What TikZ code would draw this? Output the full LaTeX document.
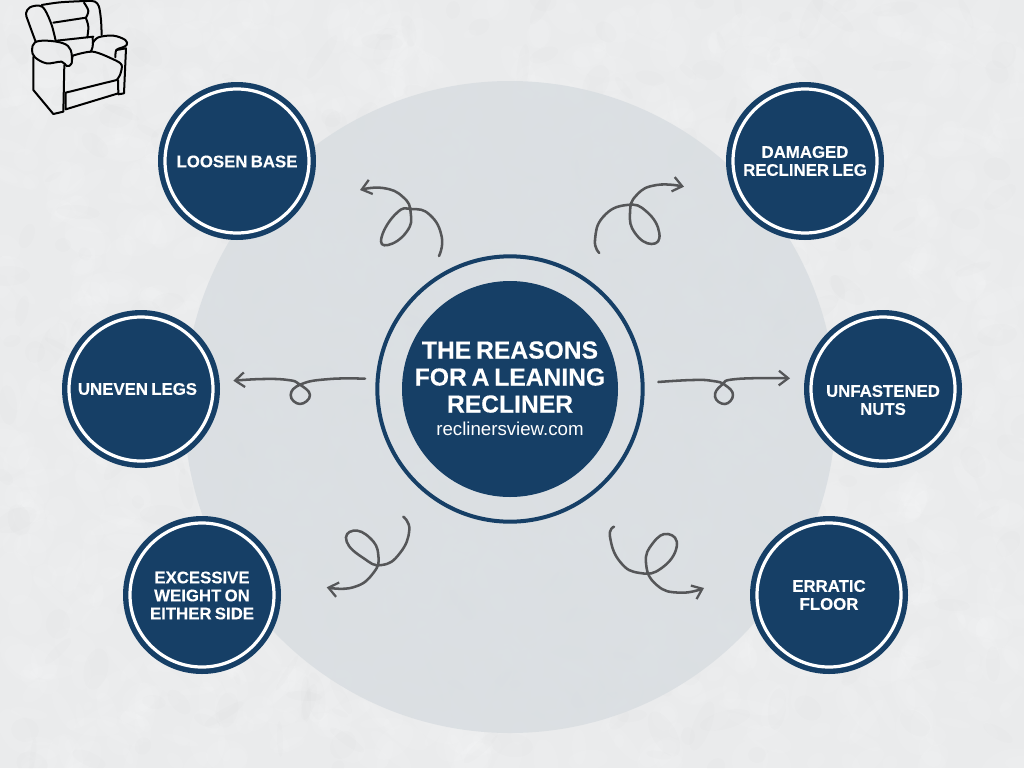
\documentclass[tikz,border=0pt]{standalone}
\usepackage{fontspec}
\setmainfont[WordSpace=0.7,BoldFeatures={FakeBold=0.25}]{Liberation Sans}
\usetikzlibrary{arrows.meta}
\definecolor{paper}{HTML}{EAEBEC}
\definecolor{disc}{HTML}{D8DDE1}
\definecolor{navy}{HTML}{163F66}
\definecolor{curl}{HTML}{555658}
\pgfmathsetseed{11}
\newcommand{\hubline}[1]{{\bfseries\fontsize{18.5}{20.25}\selectfont #1}}
\tikzset{
  reason/.style={circle,fill=navy,minimum size=118.5pt,inner sep=0pt},
  reasontext/.style={text=white,inner sep=0pt,align=center,
     font=\bfseries\fontsize{12.6}{13.5}\selectfont},
  ringline/.style={draw=white,line width=2.4pt},
  squiggle/.style={draw=curl,line width=1.9pt,line cap=round,line join=round,
     -{Straight Barb[length=7pt,width=11pt,line width=1.7pt]}},
  chairline/.style={draw=black,line width=1.5pt,line cap=round,line join=round},
  blotch/.style={white,opacity=.075},
  shade/.style={black,opacity=.008}
}
\begin{document}
\begin{tikzpicture}[x=.75pt,y=-.75pt]
\useasboundingbox (0,0) rectangle (1024,768);
\fill[paper] (0,0) rectangle (1024,768);
\begin{scope}
\clip (0,0) rectangle (1024,768);
\foreach \i in {1,...,1500}{
  \pgfmathsetmacro{\px}{random(0,1024)}
  \pgfmathsetmacro{\py}{random(0,768)}
  \pgfmathsetmacro{\ra}{random(5,30)}
  \pgfmathsetmacro{\rb}{random(4,18)}
  \pgfmathsetmacro{\ang}{random(0,180)}
  \fill[blotch,rotate around={\ang:(\px,\py)}] (\px,\py) ellipse[x radius=\ra,y radius=\rb];
}
\foreach \i in {1,...,300}{
  \pgfmathsetmacro{\px}{random(0,1024)}
  \pgfmathsetmacro{\py}{random(0,768)}
  \pgfmathsetmacro{\ra}{random(6,26)}
  \pgfmathsetmacro{\rb}{random(3,12)}
  \pgfmathsetmacro{\ang}{random(0,180)}
  \fill[shade,rotate around={\ang:(\px,\py)}] (\px,\py) ellipse[x radius=\ra,y radius=\rb];
}
\end{scope}
\fill[disc,opacity=.82] (510,407) circle[radius=326];
% chair
\begin{scope}[x=.25pt,y=-.25pt]
\draw[chairline] plot[smooth,tension=.6] coordinates {(107,125)(85,65)(78,40)(90,22)(118,17)(135,30)(155,75)(167,122)};
\draw[chairline] plot[smooth,tension=.5] coordinates {(125,15)(180,7)(260,3)(285,5)(297,20)(303,60)(305,105)};
\draw[chairline] plot[smooth,tension=.6] coordinates {(252,8)(265,32)(258,53)};
\draw[chairline] (160,68) -- (258,53);
\draw[chairline] plot[smooth,tension=.6] coordinates {(258,55)(265,80)(262,112)};
\draw[chairline] (170,122) -- (280,110);
\draw[chairline] plot[smooth,tension=.6] coordinates {(278,112)(278,140)(272,155)};
\draw[chairline] plot[smooth,tension=.6] coordinates {(278,130)(295,112)(340,107)(376,120)(380,135)(365,143)(349,150)(346,172)};
\draw[chairline] (349,150) -- (378,145) -- (372,280) -- (355,283);
\draw[chairline] plot[smooth cycle,tension=.6] coordinates {(105,127)(140,122)(190,130)(212,150)(215,190)(200,198)(185,185)(140,190)(105,172)(96,150)};
\draw[chairline] (100,170) -- (100,270) -- (160,342) -- (190,335) -- (193,195);
\draw[chairline] plot[smooth,tension=.5] coordinates {(218,167)(278,155)(340,178)(365,195)(360,225)(350,240)};
\draw[chairline] (350,240) -- (197,278) -- (197,328) -- (355,280) -- (354,240);
\draw[chairline] (218,167) -- (216,180);
\end{scope}
% centre
\node[circle,draw=navy,line width=3pt,minimum size=199pt,inner sep=0pt] (hubring) at (510,389) {};
\node[circle,fill=navy,minimum size=162pt,inner sep=0pt] (hub) at (510,389) {};
\node[text=white,inner sep=0pt,align=center,font=\fontsize{14}{20.25}\selectfont] (hubtext) at (510,388.5)
  {\hubline{THE REASONS}\\\hubline{FOR A LEANING}\\\hubline{RECLINER}\\[-3pt]reclinersview.com};
% reasons
\node[reason] (base) at (237,161) {};
\node[reason] (leg) at (805,161) {};
\node[reason] (uneven) at (141,389) {};
\node[reason] (nuts) at (883,389) {};
\node[reason] (weight) at (202,595) {};
\node[reason] (floor) at (829,595) {};
\foreach \n in {base,leg,uneven,nuts,weight,floor}{
  \draw[ringline] (\n) circle[radius=72];
}
\node[reasontext] (baseT) at (237,161.5) {LOOSEN BASE};
\node[reasontext] (legT) at (805,161) {DAMAGED\\RECLINER LEG};
\node[reasontext] (unevenT) at (137.5,389) {UNEVEN LEGS};
\node[reasontext] (nutsT) at (883,400) {UNFASTENED\\NUTS};
\node[reasontext] (weightT) at (202,595.5) {EXCESSIVE\\WEIGHT ON\\EITHER SIDE};
\node[reasontext] (floorT) at (829,595) {ERRATIC\\FLOOR};
% curls
\coordinate (tlS) at (439,256); \coordinate (tlE) at (360,190);
\coordinate (trS) at (599.3,253); \coordinate (trE) at (684,186.7);
\coordinate (lS) at (365,378.7); \coordinate (lE) at (233.3,380.7);
\coordinate (rS) at (658.3,382); \coordinate (rE) at (790,378.3);
\coordinate (blS) at (403.3,516.7); \coordinate (blE) at (326.7,587.3);
\coordinate (brS) at (614,526.7); \coordinate (brE) at (704,588);
\draw[squiggle] plot[smooth,tension=.85] coordinates {(tlS)(441.7,236.7)(430,215)(411.7,209)(396.7,213)(381.7,236.7)(388,245)(406.7,231.7)(410.7,213)(403,197)(383,188)(tlE)};
\draw[squiggle] plot[smooth,tension=.85] coordinates {(trS)(595,240)(603.3,216.7)(626.7,205)(646.7,211.7)(659.3,233)(651.7,244)(635,233)(630,213)(636.7,195)(656.7,185)(trE)};
\draw[squiggle] plot[smooth,tension=.8] coordinates {(lS)(330,379)(301.7,384)(290.7,395)(300,404)(310,395)(299,384)(288,380)(263,379)(lE)};
\draw[squiggle] plot[smooth,tension=.8] coordinates {(rS)(693,380)(713,381)(725,385)(733,395)(725,404)(715,396.7)(721.7,385)(736.7,379)(rE)};
\draw[squiggle] plot[smooth,tension=.85] coordinates {(blS)(409.3,530)(400,553)(381.7,565)(363.3,558)(346.7,541.7)(353.3,530.7)(370,538)(378.3,555)(373.3,573)(353.3,587.3)(blE)};
\draw[squiggle] plot[smooth,tension=.85] coordinates {(brS)(610,536.7)(620,561.7)(640,573)(661.7,568)(676.7,546.7)(668,534)(653,543)(646,563)(656.7,585)(680,592.7)(brE)};
\end{tikzpicture}
\end{document}
